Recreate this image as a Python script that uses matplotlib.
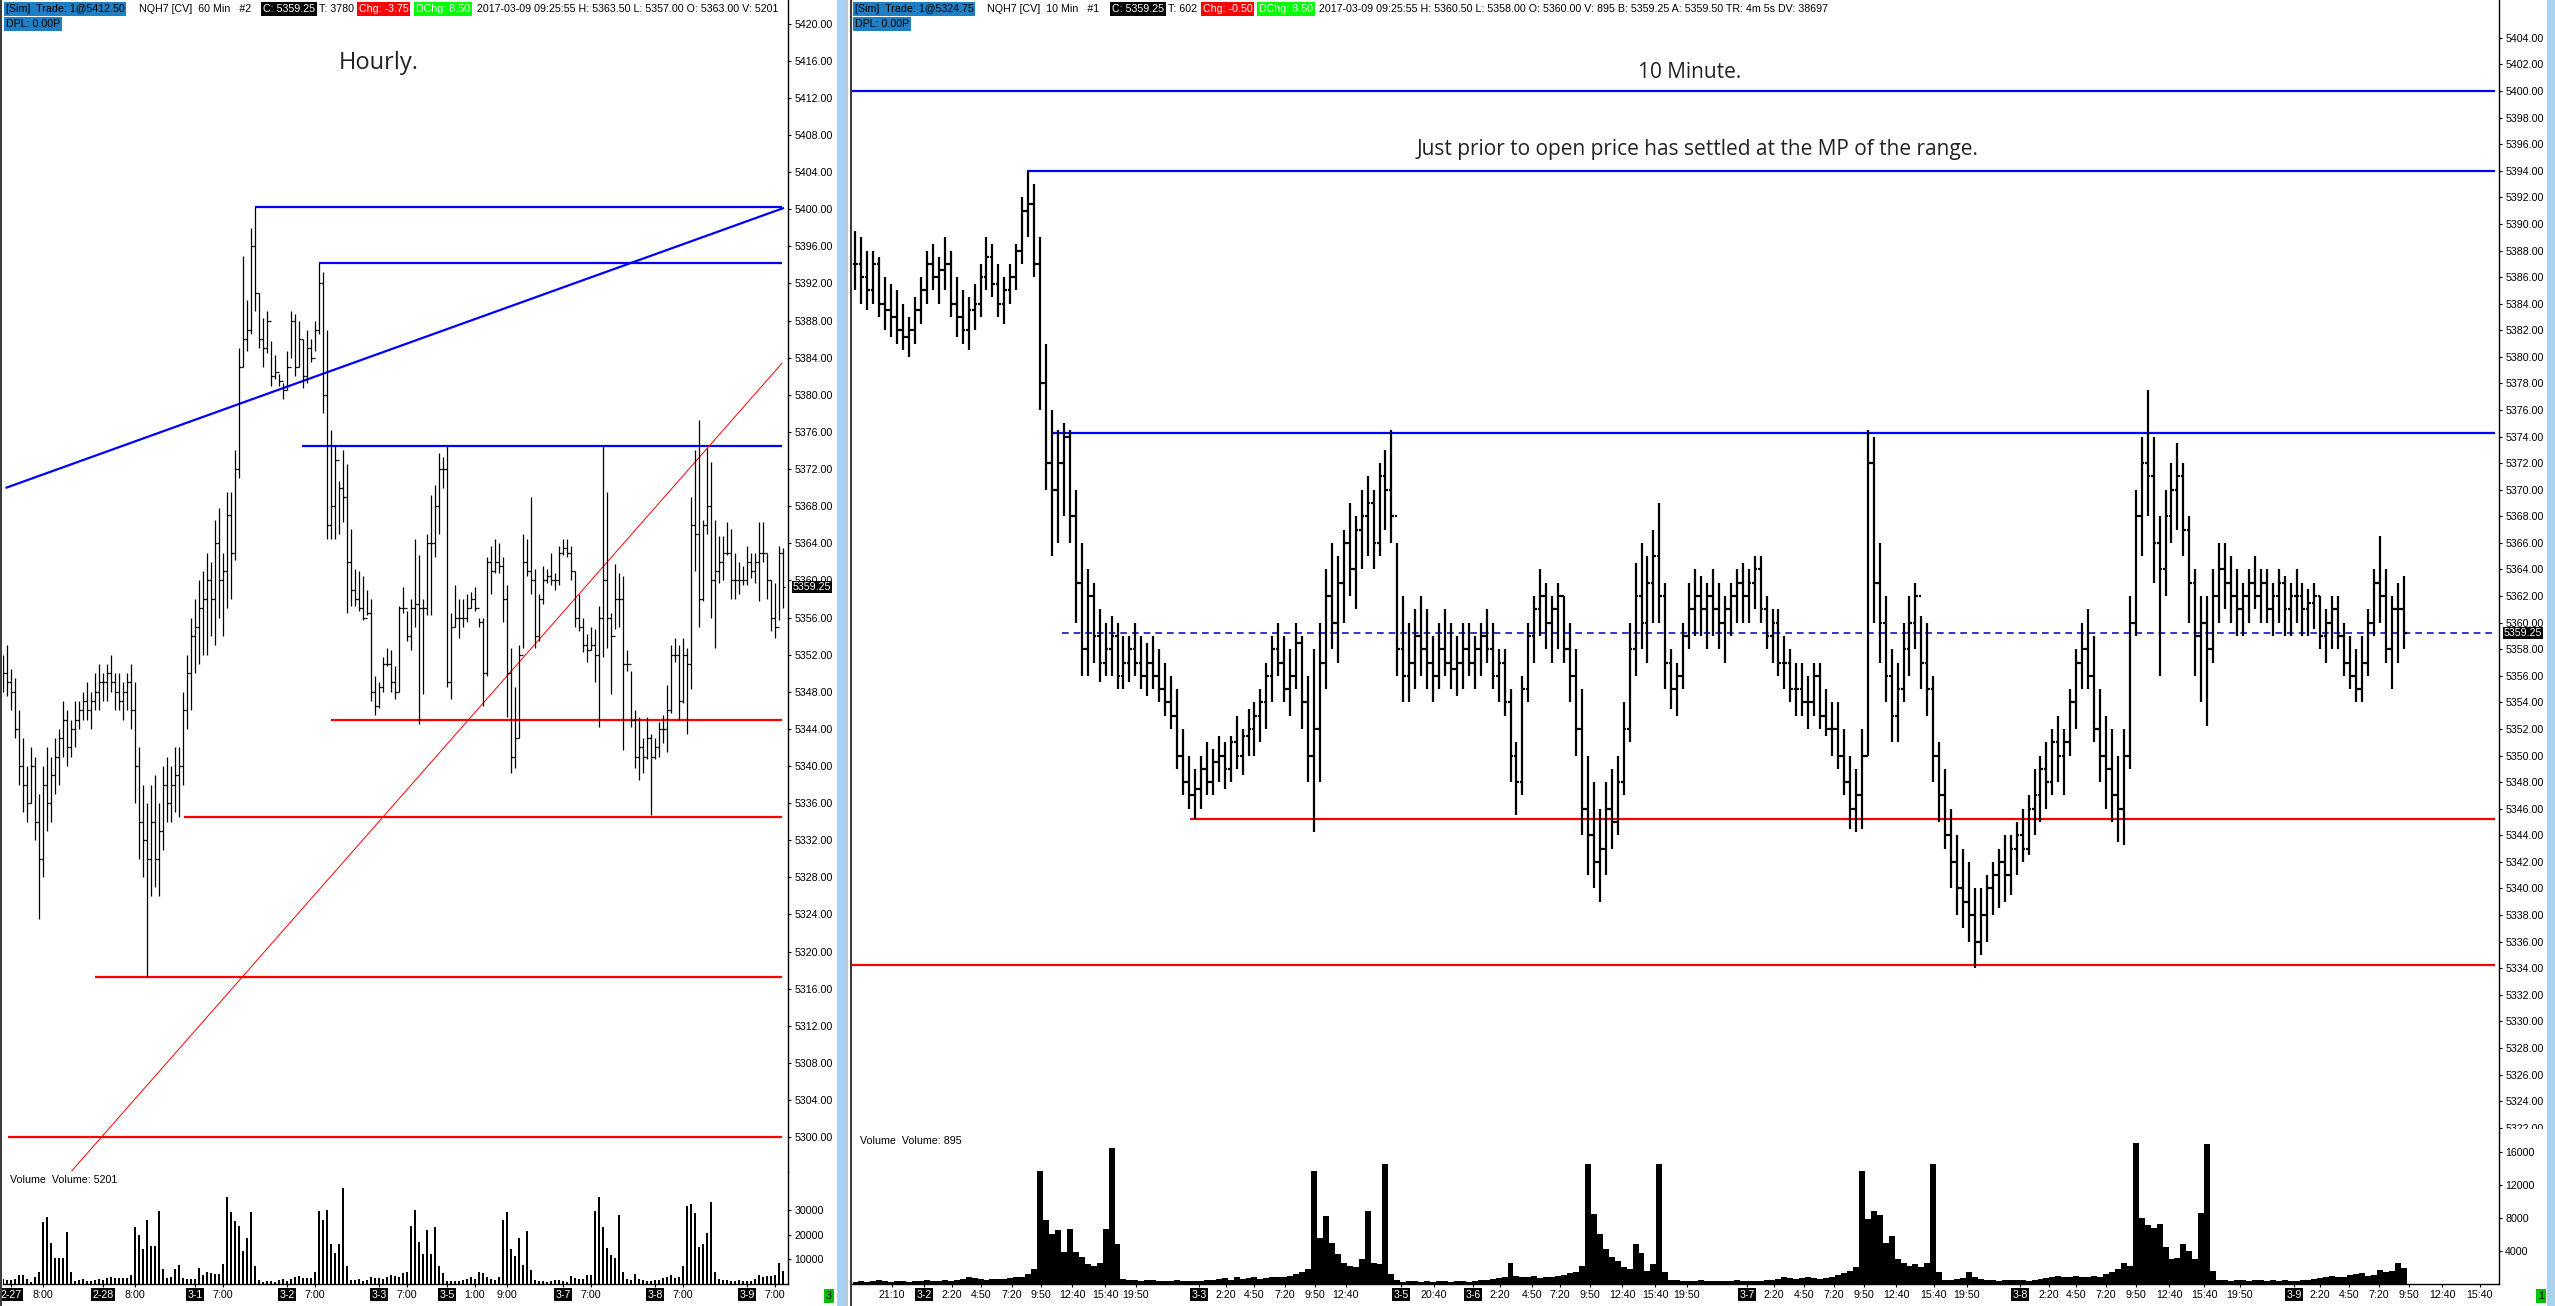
import matplotlib
matplotlib.use("Agg")
from matplotlib import pyplot as plot
from matplotlib.patches import Rectangle

FIG_W = 2555
FIG_H = 1306
LABEL_SIZE = 7.7
NOTE_SIZE = 15

#Hourly (60 Min) bars, oldest first
hourlyHigh = [5352, 5353, 5350.5, 5349.5, 5346, 5343, 5340, 5342, 5341, 5337,
              5340, 5342, 5341, 5343, 5344, 5347, 5346, 5345, 5347, 5347,
              5348, 5349, 5348, 5350, 5351, 5350, 5351, 5352, 5350, 5350,
              5349, 5350, 5351, 5349, 5342, 5338, 5336, 5338, 5339, 5336,
              5340, 5341, 5340, 5342, 5342, 5348, 5352, 5356, 5358, 5360,
              5361, 5363, 5362, 5366.5, 5367.75, 5363, 5369.5, 5369.5, 5374, 5385,
              5395, 5390.25, 5398, 5400.25, 5391, 5388.25, 5389, 5385.75, 5384.25, 5382.25,
              5381.25, 5384.75, 5389, 5388.75, 5388, 5386, 5387, 5386, 5388, 5394.25,
              5393.25, 5387, 5376.25, 5374.5, 5370.75, 5374, 5372.5, 5365.5, 5361.25, 5361,
              5360.5, 5359, 5358, 5349.75, 5349, 5351.75, 5352.75, 5352.5, 5350.75, 5357.25,
              5359.25, 5356.75, 5358, 5364.5, 5362.75, 5358, 5365, 5369.25, 5370.25, 5373.75,
              5373.25, 5374.5, 5356.5, 5359.5, 5358, 5358, 5358.5, 5358.75, 5359.25, 5356,
              5356, 5362.5, 5363.75, 5364.5, 5364, 5362.5, 5359.5, 5352.75, 5348.5, 5353,
              5365, 5364.5, 5369, 5361.25, 5358.5, 5361.5, 5361.25, 5363, 5360.75, 5363.75,
              5364.5, 5364.5, 5363.75, 5361, 5358.5, 5356, 5354.25, 5355, 5354.75, 5357.25,
              5374.5, 5369.5, 5356.5, 5361.75, 5360.75, 5360.5, 5352.5, 5350.25, 5346, 5345.25,
              5343, 5345.25, 5343.5, 5343, 5344.75, 5345.5, 5348.75, 5353, 5353.75, 5353,
              5353.75, 5352.75, 5369, 5374, 5377.25, 5366.5, 5374.25, 5372.75, 5366.5, 5364.75,
              5364.75, 5366.25, 5365.5, 5363, 5362, 5361.5, 5363.75, 5363, 5363, 5366.25,
              5366.25, 5363, 5360, 5359.75, 5363.75, 5363.5]
hourlyLow = [5348, 5347.5, 5346, 5343, 5338, 5335, 5334, 5336, 5332, 5323.5,
             5328, 5333, 5334, 5337, 5338, 5341, 5340, 5341, 5342, 5344,
             5345, 5345, 5344, 5346, 5346, 5347, 5347, 5348, 5346, 5346,
             5345, 5346, 5344, 5336, 5330, 5328, 5317.25, 5326, 5327, 5326,
             5331, 5334, 5334, 5335, 5334.5, 5338, 5344, 5346, 5350, 5351,
             5352, 5352, 5354, 5353, 5356, 5354, 5357, 5358, 5362.25, 5371,
             5383, 5384.75, 5386.5, 5389, 5385, 5383, 5384.5, 5381, 5381.75, 5381,
             5379.5, 5380.5, 5384, 5382, 5383, 5380.75, 5381.25, 5383.5, 5384.75, 5386.5,
             5378, 5364.5, 5364.5, 5364.5, 5365, 5366.25, 5356.5, 5357.25, 5357.25, 5356.75,
             5355.75, 5356.25, 5347, 5345.5, 5346.25, 5348, 5350.75, 5348, 5347.25, 5348,
             5356.5, 5353.5, 5352.5, 5355, 5344.5, 5347.75, 5356.25, 5356.25, 5362.5, 5365,
             5370, 5348.5, 5347.25, 5355, 5353.75, 5355, 5355.5, 5357, 5356.75, 5355,
             5346.5, 5349.75, 5358.5, 5360.75, 5360.75, 5355.5, 5345.25, 5339.25, 5339.75, 5343,
             5352.75, 5360.5, 5358.5, 5352.75, 5353.5, 5357.5, 5359.75, 5359.5, 5359, 5359.5,
             5362.75, 5362.5, 5360, 5355, 5354.5, 5352.25, 5351.25, 5352.5, 5349, 5344.25,
             5351.75, 5352.75, 5347.75, 5354.75, 5355, 5341.75, 5350.25, 5344.25, 5339.75, 5338.5,
             5339.25, 5340.75, 5334.75, 5340.75, 5341, 5342.5, 5341.5, 5345.75, 5351.25, 5345,
             5346.75, 5343.5, 5348.25, 5361, 5355, 5357.75, 5365, 5356, 5352.75, 5359.75,
             5360, 5362.75, 5358, 5358, 5358.5, 5359.5, 5359.5, 5360.25, 5359.75, 5357.75,
             5362, 5358, 5354.5, 5353.75, 5355.75, 5357]
hourlyClose = [5350, 5349, 5348, 5344, 5340, 5338, 5336, 5340, 5334, 5330,
               5338, 5336, 5339, 5341, 5343, 5345, 5342, 5344, 5345, 5346,
               5347, 5346, 5347, 5348, 5349, 5349, 5350, 5349, 5348, 5347,
               5348, 5349, 5346, 5340, 5334, 5332, 5330, 5334, 5330, 5333,
               5338, 5336, 5338, 5339, 5340, 5346, 5350, 5354, 5355, 5357,
               5358, 5360, 5358, 5364, 5360, 5361, 5367, 5363, 5372, 5383,
               5386, 5387, 5396, 5391, 5386, 5385, 5388, 5382, 5382.5, 5381.5,
               5380.5, 5383, 5388, 5383, 5386, 5382, 5385, 5384, 5387, 5392,
               5380, 5366, 5368, 5373, 5370, 5369, 5362, 5359, 5358, 5357,
               5356, 5356.5, 5348, 5346.5, 5348.5, 5351, 5351, 5349, 5348, 5357,
               5357, 5354, 5357, 5357.5, 5357, 5357, 5364, 5364, 5368, 5372,
               5372, 5349, 5355, 5356, 5356, 5356, 5357, 5358, 5357, 5355.5,
               5350, 5362, 5361, 5362, 5361.5, 5358, 5350, 5341, 5343, 5352,
               5362, 5361, 5360, 5354, 5358, 5360, 5360.5, 5360, 5360, 5363,
               5363.5, 5363, 5361, 5356, 5355, 5353, 5352.5, 5353, 5352, 5356,
               5360, 5356, 5354, 5358, 5358, 5351, 5351, 5345, 5341, 5342,
               5341, 5343, 5341, 5342, 5344, 5344, 5346, 5352, 5352, 5347,
               5352, 5351, 5366, 5365, 5358, 5366, 5368, 5360, 5361, 5362,
               5363, 5363, 5360, 5360, 5360, 5360, 5362, 5361, 5362, 5363,
               5363, 5360, 5356, 5355, 5363, 5359.25]
hourlyVolume = [2000, 1800,
                1600, 2000, 3800, 3800, 2000, 1000, 2700, 5000, 25000, 27000, 16400, 10700, 10700, 10700, 21000, 4700, 1400, 1600, 2000, 1100, 1400, 1600, 1900,
                1600, 2400, 2700, 2300, 2300, 2300, 2300, 3800, 23000, 19700, 14000, 26000, 15300, 15300, 29700, 6200, 2400, 2800, 6000, 7800, 2400, 2000, 1900,
                1900, 6500, 3800, 4700, 4300, 4000, 4000, 8000, 35000, 29000, 25300, 23600, 13500, 18600, 29000, 7400, 1800, 1000, 1400, 1100, 1000, 1600, 2000,
                1100, 1900, 2700, 3200, 2300, 2300, 2300, 5000, 29700, 25700, 30100, 16200, 12600, 16000, 39000, 7400, 1800, 1500, 2000, 1400, 1800, 2700, 2400,
                2400, 2200, 2700, 3800, 3400, 3000, 4300, 5000, 23600, 30100, 16900, 12200, 21900, 12000, 23200, 7400, 4300,
                1400, 1400, 1100, 1400, 1800, 2000,
                2700, 2000, 5000, 4300, 3000, 2000, 1600, 3000, 26000, 29300, 14200, 11200, 18500, 7700, 21300, 5800, 1600, 1200, 1400, 1000, 1100, 1500, 1600,
                1400, 1000, 3200, 2300, 2000, 2000, 3800, 3800, 29700, 35000, 23000, 14500, 11900, 10400, 28000, 5000, 2000, 1600, 3900, 2000, 1600, 1400, 1300,
                1800, 1600, 2300, 2700, 3800, 2300, 3000, 7300, 31500, 32400, 28800, 15100, 16200, 20500, 33000, 5000, 2000, 1600, 1800, 1400, 1200, 1500, 1400,
                1400, 1100, 2000, 3800, 2700, 3400, 3100, 3800, 8400, 5201]

#Hourly time axis, bar index of each label
hourlyTickBars = [2, 10, 25, 33, 48, 55, 71, 78, 94, 101, 111, 118, 126, 140, 147, 163, 170, 186, 193]
hourlyTickLabels = ["2-27", "8:00", "2-28", "8:00", "3-1", "7:00", "3-2", "7:00", "3-3", "7:00",
                    "3-5", "1:00", "9:00", "3-7", "7:00", "3-8", "7:00", "3-9", "7:00"]
hourlyPriceTicks = list(range(5300, 5421, 4))
hourlyVolumeTicks = [10000, 20000, 30000]

#10 Min bars read every 30 minutes (three bars per reading)
tenHigh = [5389.5, 5389, 5388, 5388, 5387.5, 5386, 5385.5, 5385, 5384, 5383, 5384.5, 5386,
           5388, 5388.5, 5387.5, 5389, 5388, 5386, 5385, 5384.5, 5385.5, 5387, 5389, 5388.5, 5387, 5386, 5387, 5388.5, 5392, 5394,
           5393, 5389, 5381, 5376, 5374.5, 5375, 5374.5, 5370, 5366, 5364, 5363, 5361, 5360, 5360.5, 5360, 5359, 5359, 5360, 5359, 5358.5,
           5359, 5358, 5357, 5356, 5355, 5352, 5350, 5349,
           5350, 5351, 5350.5, 5351.5, 5351, 5351.5, 5353, 5352, 5353.5, 5354, 5355, 5357, 5359, 5360, 5359, 5358, 5360, 5359, 5356, 5358,
           5360, 5364, 5366, 5365, 5367, 5369, 5368, 5370, 5371, 5370, 5372, 5373, 5374.5, 5366,
           5362, 5360, 5361, 5362, 5361, 5359, 5360, 5361, 5360, 5359, 5360, 5360,
           5359, 5360, 5361, 5360, 5358, 5358, 5355, 5351, 5356, 5360, 5362, 5364, 5363, 5362, 5363, 5362, 5360, 5358, 5355, 5350, 5348,
           5346, 5348, 5349, 5350, 5354, 5360, 5364.5, 5366, 5365, 5367, 5369, 5363, 5358, 5357, 5360, 5363, 5364, 5363.5, 5363, 5364,
           5363, 5362, 5363, 5364, 5364.5, 5364,
           5365, 5365, 5362, 5361, 5361, 5359, 5358, 5357, 5357, 5356, 5357, 5357, 5355, 5354, 5354, 5352, 5350, 5349, 5352, 5374.5,
           5374, 5366, 5362, 5358, 5357, 5360, 5362, 5363, 5360.5, 5360, 5356, 5351, 5349, 5346, 5344, 5343, 5342, 5340, 5340, 5341,
           5342, 5343, 5344, 5344, 5345, 5346,
           5347, 5349, 5350, 5351, 5352, 5353, 5352, 5355, 5358, 5360, 5361, 5359, 5355, 5353, 5352, 5350, 5352, 5362, 5370, 5374,
           5377.5, 5374, 5368, 5370, 5372, 5373.5, 5372, 5368, 5364, 5362, 5362, 5364, 5366, 5366, 5365, 5364, 5363, 5364, 5365, 5364,
           5364, 5363, 5364, 5363.5, 5363, 5364,
           5363, 5362.5, 5363, 5362, 5361, 5362, 5362, 5360, 5359, 5358, 5359, 5361, 5364, 5366.5, 5364, 5362, 5363, 5363.5]
tenLow = [5385, 5384, 5383.5, 5384, 5383, 5382, 5381.5, 5381, 5380.5, 5380, 5381, 5382.5,
          5384, 5385, 5384, 5385, 5383, 5381.5, 5381, 5380.5, 5382, 5383, 5385, 5384.5, 5383, 5382.5, 5384, 5385, 5387, 5389,
          5386, 5376, 5370, 5365, 5366, 5368, 5366, 5360, 5356, 5356, 5357, 5355.5, 5356, 5356, 5355, 5355, 5355.5, 5356, 5355, 5354.5,
          5355, 5354, 5353, 5352, 5349, 5347, 5346, 5345.25,
          5346, 5347, 5347, 5348, 5347.5, 5348, 5349, 5348.5, 5350, 5350, 5351, 5352, 5354, 5356, 5354, 5353, 5355, 5352, 5348, 5344.25,
          5348, 5355, 5358, 5357, 5360, 5362, 5361, 5364, 5365, 5364, 5365, 5367, 5366, 5356,
          5354, 5354, 5355, 5356, 5355, 5354, 5355, 5356, 5355, 5354.5, 5355, 5356,
          5355, 5356, 5357, 5355, 5354, 5353, 5348, 5345.5, 5347, 5354, 5357, 5359, 5358, 5357, 5358, 5357, 5354, 5350, 5344, 5341,
          5340, 5339, 5341, 5343, 5344, 5347, 5351, 5356, 5358, 5357, 5360, 5360, 5355, 5353.5, 5353, 5355, 5358, 5359, 5359, 5358,
          5359, 5358, 5357, 5359, 5360, 5360,
          5360, 5361, 5360, 5358, 5357, 5356, 5355, 5354, 5353, 5353, 5352, 5353, 5352, 5351.5, 5350, 5349, 5347, 5344.5, 5344.25, 5344.5,
          5350, 5360, 5357, 5354, 5351, 5351, 5354, 5356, 5358, 5355, 5353, 5348, 5345, 5343, 5340, 5338, 5337, 5336, 5334, 5335,
          5336, 5338, 5338.5, 5339, 5339.5, 5341,
          5342, 5342.5, 5344, 5345, 5346, 5347, 5348, 5347, 5350, 5352, 5355, 5355, 5351, 5348, 5346, 5345, 5343.5, 5343.25, 5349, 5359,
          5365, 5368, 5363, 5356, 5362, 5366, 5367, 5365, 5360, 5356, 5354, 5352.25, 5357, 5360, 5361, 5360, 5359, 5359, 5360, 5361,
          5360, 5360, 5359, 5360, 5359, 5359,
          5360, 5359, 5359, 5359.5, 5358, 5357, 5358, 5358, 5356, 5355, 5354, 5354, 5356, 5359, 5360, 5357, 5355, 5357, 5358]
tenClose = [5387, 5386, 5385, 5387, 5384, 5383.5, 5383, 5382, 5381.5, 5382, 5383.5, 5385,
            5387, 5386, 5386.5, 5387, 5384, 5383, 5382, 5383.5, 5384, 5386, 5387.5, 5385.5, 5384, 5385, 5386, 5388, 5391, 5391.5,
            5387, 5378, 5372, 5370, 5372, 5374, 5368, 5363, 5358, 5362, 5359, 5357, 5358, 5359, 5356, 5357, 5358, 5357, 5356, 5357,
            5356, 5355, 5354, 5353, 5350, 5348, 5347, 5347.5,
            5349, 5348, 5349.5, 5350, 5349, 5351, 5350, 5351.5, 5352, 5353, 5354, 5356, 5358, 5357, 5355, 5356, 5358.5, 5354, 5350, 5352,
            5357, 5362, 5360, 5363, 5366, 5364, 5367, 5368, 5369, 5366, 5371, 5370, 5368, 5358,
            5356, 5357, 5359, 5358, 5357, 5356, 5358, 5357, 5356.5, 5357, 5358, 5357,
            5358, 5359, 5358, 5356, 5357, 5354, 5350, 5348, 5355, 5359, 5361, 5362, 5360, 5361, 5362, 5358, 5356, 5352, 5346, 5344,
            5342, 5343, 5346, 5345, 5348, 5352, 5358, 5362, 5360, 5363, 5365, 5362, 5357, 5355, 5356, 5359, 5361, 5362, 5361, 5362,
            5361, 5360, 5361, 5362, 5363, 5362,
            5363, 5364, 5361, 5359, 5360, 5357, 5357, 5355, 5355, 5354, 5354, 5356, 5353, 5352, 5352, 5350, 5348, 5346, 5347, 5350,
            5372, 5363, 5360, 5356, 5353, 5355, 5358, 5360, 5362, 5357, 5355, 5350, 5347, 5344, 5342, 5340, 5339, 5338, 5336, 5338,
            5340, 5341, 5342, 5341, 5343, 5344,
            5343, 5346, 5347, 5349, 5348, 5351, 5350, 5351, 5354, 5357, 5358, 5356, 5352, 5350, 5349, 5347, 5346, 5350, 5360, 5368,
            5372, 5371, 5366, 5364, 5368, 5370, 5371, 5367, 5363, 5359, 5360, 5358, 5362, 5364, 5363, 5362, 5361, 5362, 5363, 5362,
            5363, 5361, 5362, 5363, 5361, 5362,
            5362, 5361, 5361.5, 5362, 5359, 5360, 5361, 5359, 5357, 5356, 5355, 5357, 5360, 5363, 5362, 5358, 5361, 5361, 5359.25]
tenVolume = [300, 350, 300, 400, 500, 350, 300, 400, 350, 300, 350, 400,
             450, 400, 350, 500, 400, 450, 600, 800, 700, 600, 500, 600, 550, 600, 700, 800, 900, 1200, 1800,
             13700, 7700, 6100, 6500, 3900, 6700, 3900, 3300, 2400, 2200, 2600, 6700, 16500, 4800, 600,
             500, 450, 400, 450, 500, 400, 350, 400, 450, 350, 400, 350,
             400, 500, 450, 600, 700, 500, 900, 600, 700, 800, 600, 700, 900, 800, 900, 1000, 1200, 1400, 1800,
             13700, 5600, 8200, 5000, 3600, 2600, 2200, 2000, 3000, 8800, 2600, 2400, 14500, 1200, 500,
             300, 350, 400, 300, 350, 300, 400, 350, 300, 400, 350, 300,
             400, 450, 500, 600, 700, 800, 2600, 1000, 900, 800, 1000, 700, 800, 900, 1000, 1100, 1300, 1500, 2200,
             14500, 8500, 6000, 4200, 3300, 2800, 2000, 1800, 4800, 3800, 1600, 2400, 14500, 1400, 500,
             450, 400, 350, 400, 450, 400, 350, 400, 350, 400, 450, 400,
             400, 350, 400, 450, 500, 600, 900, 700, 600, 700, 800, 700, 600, 700, 900, 1100, 1300, 1600, 2000,
             13700, 7900, 8900, 8400, 5000, 5800, 3000, 2600, 2200, 2400, 2000, 2600, 14500, 1400, 500,
             500, 600, 700, 1400, 800, 600, 500, 450, 400, 450, 500, 450,
             450, 400, 500, 600, 700, 900, 1000, 800, 900, 1000, 900, 800, 1000, 900, 1200, 1400, 1800, 2500, 2200,
             17100, 8000, 7100, 6800, 7300, 4500, 3000, 3200, 4800, 4000, 3000, 8600, 17000, 1600, 500,
             450, 400, 500, 450, 400, 450, 500, 400, 450, 400, 450, 400,
             400, 450, 500, 550, 700, 900, 1000, 800, 900, 1100, 1200, 1300, 1000, 1100, 1700, 1400, 1600, 2600, 1900]

#10 Min time axis, position in 10 minute bars
tenTickBars = [19.4, 35.5, 49.6, 64.2, 79.8, 94.5, 110.1, 126.7, 142.3, 174.1, 187.7, 201.8, 217.4, 232.5, 248.1,
               275.8, 292.4, 312.1, 325.7, 341.8, 355.9, 371.0, 387.2, 403.8, 419.9, 450.1, 463.7, 478.8, 493.9,
               509.1, 525.2, 544.3, 560.9, 587.7, 602.3, 615.9, 631.0, 646.1, 662.8, 680.4, 698.5, 725.7, 738.8,
               753.4, 768.5, 783.6, 800.3, 819.4]
tenTickLabels = ["21:10", "3-2", "2:20", "4:50", "7:20", "9:50", "12:40", "15:40", "19:50", "3-3", "2:20", "4:50", "7:20",
                 "9:50", "12:40", "3-5", "20:40", "3-6", "2:20", "4:50", "7:20", "9:50", "12:40", "15:40", "19:50", "3-7",
                 "2:20", "4:50", "7:20", "9:50", "12:40", "15:40", "19:50", "3-8", "2:20", "4:50", "7:20", "9:50", "12:40",
                 "15:40", "19:50", "3-9", "2:20", "4:50", "7:20", "9:50", "12:40", "15:40"]
tenPriceTicks = list(range(5322, 5405, 2))
tenVolumeTicks = [4000, 8000, 12000, 16000]

#Header strips: (x pixel, text, text colour, box colour)
hourlyHeader = [(6, "[Sim]  Trade: 1@5412.50", "black", "#1f7fc4"), (139, "NQH7 [CV]  60 Min   #2", "black", None),
                (263, "C: 5359.25", "white", "black"), (319, "T: 3780", "black", None),
                (359, "Chg: -3.75", "white", "#ff0000"), (416, "DChg: 8.50", "white", "#00ff00"),
                (477, "2017-03-09 09:25:55 H: 5363.50 L: 5357.00 O: 5363.00 V: 5201", "black", None)]
tenHeader = [(855, "[Sim]  Trade: 1@5324.75", "black", "#1f7fc4"), (987, "NQH7 [CV]  10 Min   #1", "black", None),
             (1112, "C: 5359.25", "white", "black"), (1168, "T: 602", "black", None),
             (1203, "Chg: -0.50", "white", "#ff0000"), (1259, "DChg: 8.50", "white", "#00ff00"),
             (1319, "2017-03-09 09:25:55 H: 5360.50 L: 5358.00 O: 5360.00 V: 895 B: 5359.25 A: 5359.50 TR: 4m 5s DV: 38697", "black", None)]


def pixelRect(left:float, top:float, right:float, bottom:float) -> list[float]:
    return [left / FIG_W, 1 - bottom / FIG_H, (right - left) / FIG_W, (bottom - top) / FIG_H]


def fillPixels(figure, left:float, top:float, right:float, bottom:float, color:str) -> None:
    figure.add_artist(Rectangle((left / FIG_W, 1 - bottom / FIG_H), (right - left) / FIG_W, (bottom - top) / FIG_H,
                                transform=figure.transFigure, facecolor=color, edgecolor="none", zorder=5))


def pixelText(figure, x:float, y:float, text:str, **style) -> None:
    figure.text(x / FIG_W, 1 - y / FIG_H, text, **style)


def drawBars(axis, xs:list[float], highs:list[float], lows:list[float], closes:list[float], tick:float, width:float) -> None:
    #each bar opens where the one before closed
    opens = [closes[0]] + closes[:-1]
    axis.vlines(xs, lows, highs, colors="black", linewidth=width)
    axis.hlines(opens, [x - tick for x in xs], xs, colors="black", linewidth=width)
    axis.hlines(closes, xs, [x + tick for x in xs], colors="black", linewidth=width)


def setupPriceAxis(axis, xLimits, yLimits, ticks:list[int]) -> None:
    axis.set_xlim(*xLimits)
    axis.set_ylim(*yLimits)
    for side in ["left", "top", "bottom"]:
        axis.spines[side].set_visible(False)
    axis.spines["right"].set_linewidth(1.0)
    axis.yaxis.tick_right()
    axis.set_yticks(ticks)
    axis.set_yticklabels([f"{t:.2f}" for t in ticks])
    axis.tick_params(axis="y", direction="out", length=2.5, width=0.8, pad=2, labelsize=LABEL_SIZE)
    axis.set_xticks([])


def setupVolumeAxis(axis, xLimits, yTop:float, ticks:list[int], tickBars:list[float], tickLabels:list[str]) -> None:
    axis.set_xlim(*xLimits)
    axis.set_ylim(0, yTop)
    for side in ["left", "top"]:
        axis.spines[side].set_visible(False)
    axis.spines["right"].set_linewidth(1.0)
    axis.spines["bottom"].set_linewidth(1.0)
    axis.yaxis.tick_right()
    axis.set_yticks(ticks)
    axis.set_yticklabels([str(t) for t in ticks])
    axis.tick_params(axis="y", direction="out", length=2.5, width=0.8, pad=2, labelsize=LABEL_SIZE)
    axis.set_xticks(tickBars)
    axis.set_xticklabels(tickLabels)
    axis.tick_params(axis="x", direction="out", length=2.5, width=0.8, pad=1.5, labelsize=LABEL_SIZE)
    #day labels sit in black boxes
    for label in axis.get_xticklabels():
        if "-" in label.get_text():
            label.set_color("white")
            label.set_bbox(dict(facecolor="black", edgecolor="none", boxstyle="square,pad=0.12"))


def priceMarker(axis, price:float) -> None:
    axis.annotate(f"{price:.2f}", xy=(1, price), xycoords=axis.get_yaxis_transform(), xytext=(3.5, 0),
                  textcoords="offset points", va="center", ha="left", fontsize=LABEL_SIZE, color="white",
                  bbox=dict(facecolor="black", edgecolor="none", boxstyle="square,pad=0.1"), annotation_clip=False)


def drawHeader(figure, items) -> None:
    for x, text, color, box in items:
        style = dict(fontsize=LABEL_SIZE, color=color, va="center", ha="left")
        if box:
            style["bbox"] = dict(facecolor=box, edgecolor="none", boxstyle="square,pad=0.15")
        pixelText(figure, x, 9, text, **style)
    pixelText(figure, items[0][0], 24, "DPL: 0.00P", fontsize=LABEL_SIZE, color="black", va="center", ha="left",
              bbox=dict(facecolor="#1f7fc4", edgecolor="none", boxstyle="square,pad=0.15"))


def drawHourly(figure) -> None:
    bars = list(range(len(hourlyClose)))
    xLimits = (0, 196.25)

    price = figure.add_axes(pixelRect(3, 0, 788, 1172))
    setupPriceAxis(price, xLimits, (5296.25, 5422.54), hourlyPriceTicks)

    #support / resistance drawn on the chart: price, first bar, colour
    levels = [(5400.25, 63, "#0000ff"), (5394.25, 79, "#0000ff"), (5374.5, 74.75, "#0000ff"),
              (5345, 82, "#ff0000"), (5334.5, 45.25, "#ff0000"), (5317.25, 23, "#ff0000"), (5300, 1.25, "#ff0000")]
    for level, start, color in levels:
        price.hlines(level, start, 194.75, colors=color, linewidth=1.6)
    price.plot([0.9, 195], [5370.0, 5400.1], color="#0000ff", linewidth=1.6)
    price.plot([17.25, 194.75], [5296.4, 5383.4], color="#ff0000", linewidth=0.7)

    drawBars(price, bars, hourlyHigh, hourlyLow, hourlyClose, 0.45, 0.9)
    priceMarker(price, hourlyClose[-1])

    volume = figure.add_axes(pixelRect(3, 1172, 788, 1284))
    volume.bar(bars, hourlyVolume, width=0.5, color="black")
    setupVolumeAxis(volume, xLimits, 45300, hourlyVolumeTicks, hourlyTickBars, hourlyTickLabels)

    pixelText(figure, 379, 63, "Hourly.", fontsize=17, family="Open Sans", ha="center", va="center", color="#222222")
    pixelText(figure, 10, 1180, "Volume  Volume: 5201", fontsize=LABEL_SIZE, ha="left", va="center")


def drawTenMinute(figure) -> None:
    #each reading covers three 10 minute bars
    slots = [3 * s + 1 for s in range(len(tenClose))]
    xLimits = (-0.76, 829)

    price = figure.add_axes(pixelRect(852, 0, 2499, 1133))
    setupPriceAxis(price, xLimits, (5321.6, 5406.85), tenPriceTicks)

    levels = [(5400, -1, "#0000ff"), (5394, 87.4, "#0000ff"), (5374.25, 100.5, "#0000ff"),
              (5345.25, 169.5, "#ff0000"), (5334.25, -1, "#ff0000")]
    for level, start, color in levels:
        price.hlines(level, start, 827, colors=color, linewidth=1.6)
    price.hlines(5359.25, 105, 827, colors="#1010c0", linewidth=1.2, linestyles=(0, (4, 3)))

    drawBars(price, slots, tenHigh, tenLow, tenClose, 1.4, 1.6)
    priceMarker(price, tenClose[-1])

    volume = figure.add_axes(pixelRect(852, 1133, 2499, 1284))
    volume.bar(slots, tenVolume, width=3.0, color="black")
    setupVolumeAxis(volume, xLimits, 18300, tenVolumeTicks, tenTickBars, tenTickLabels)

    pixelText(figure, 1690, 73, "10 Minute.", fontsize=NOTE_SIZE, family="Open Sans", ha="center", va="center", color="#222222")
    pixelText(figure, 1698, 150, "Just prior to open price has settled at the MP of the range.", fontsize=NOTE_SIZE,
              family="Open Sans", ha="center", va="center", color="#222222")
    pixelText(figure, 860, 1141, "Volume  Volume: 895", fontsize=LABEL_SIZE, ha="left", va="center")


def main():
    plot.rcParams["font.family"] = ["Liberation Sans", "DejaVu Sans"]
    figure = plot.figure(figsize=(FIG_W / 100, FIG_H / 100), dpi=100)
    figure.patch.set_facecolor("white")

    drawHourly(figure)
    drawTenMinute(figure)

    drawHeader(figure, hourlyHeader)
    drawHeader(figure, tenHeader)

    #window frames between and around the two charts
    fillPixels(figure, 0, 0, 2, FIG_H, "#3c3c3c")
    fillPixels(figure, 837, 0, 846, FIG_H, "#a9d2f2")
    fillPixels(figure, 846, 0, 848, FIG_H, "#c8c8c8")
    fillPixels(figure, 850, 0, 852, FIG_H, "#3c3c3c")
    fillPixels(figure, 2547, 0, FIG_W, FIG_H, "#a9d2f2")
    #volume pane hides the bottom half of the last price label
    fillPixels(figure, 2501, 1129, 2546, 1140, "white")

    pixelText(figure, 829, 1296, "3", fontsize=LABEL_SIZE, ha="center", va="center", color="black",
              bbox=dict(facecolor="#00c000", edgecolor="none", boxstyle="square,pad=0.2"))
    pixelText(figure, 2541, 1296, "1", fontsize=LABEL_SIZE, ha="center", va="center", color="black",
              bbox=dict(facecolor="#00c000", edgecolor="none", boxstyle="square,pad=0.2"))

    figure.savefig("out.png", dpi=100)


if (__name__ == "__main__"):
    main()
